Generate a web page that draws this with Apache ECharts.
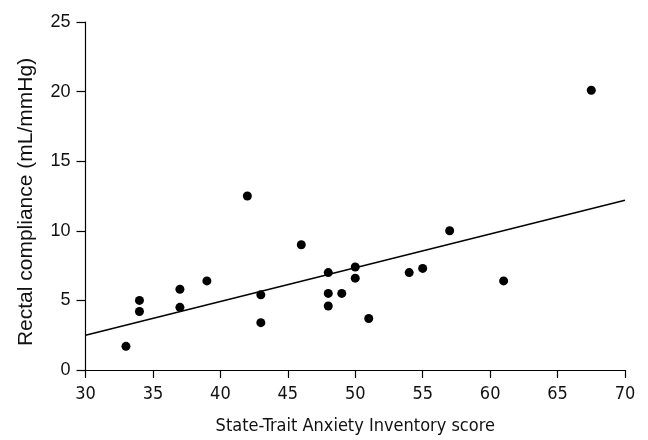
<!DOCTYPE html>
<html>
<head>
<meta charset="utf-8">
<script src="https://cdn.jsdelivr.net/npm/echarts@6/dist/echarts.min.js"></script>
<style>
  html, body { margin: 0; padding: 0; background: #fff; }
  #chart { width: 648px; height: 440px; }
</style>
</head>
<body>
<div id="chart"></div>
<script>
// STAI score vs rectal compliance
const staiScores = [33, 34, 34, 37, 37, 39, 42, 43, 43, 46, 48, 48, 48, 49, 50, 50, 51, 54, 55, 57, 61, 67.5];
const compliance = [1.7, 5.0, 4.2, 5.8, 4.5, 6.4, 12.5, 5.4, 3.4, 9.0, 7.0, 5.5, 4.6, 5.5, 7.4, 6.6, 3.7, 7.0, 7.3, 10.0, 6.4, 20.1];

// fitted line end points
const fitX = [30, 70];
const fitY = [2.5, 12.2];

const xTicks = [30, 35, 40, 45, 50, 55, 60, 65, 70];
const yTicks = [0, 5, 10, 15, 20, 25];

const narrowFont = '"DejaVu Sans Condensed", "Liberation Sans", sans-serif';

const chart = echarts.init(document.getElementById('chart'));

const axisLine = { show: true, lineStyle: { color: '#000', width: 1.2 } };

chart.setOption({
    animation: false,
    backgroundColor: '#fff',
    grid: { left: 85.5, right: 23, top: 22, bottom: 67 },
    xAxis: {
        type: 'value',
        min: xTicks[0],
        max: xTicks[xTicks.length - 1],
        interval: 5,
        name: 'State-Trait Anxiety Inventory score',
        nameLocation: 'middle',
        nameGap: 47,
        nameTextStyle: { fontFamily: narrowFont, fontSize: 18, color: '#111' },
        axisLine: axisLine,
        axisTick: { show: true, length: 8, lineStyle: { color: '#000', width: 1.2 } },
        axisLabel: { margin: 15, fontFamily: narrowFont, fontSize: 18, color: '#111' },
        splitLine: { show: false }
    },
    yAxis: {
        type: 'value',
        min: yTicks[0],
        max: yTicks[yTicks.length - 1],
        interval: 5,
        name: 'Rectal compliance (mL/mmHg)',
        nameLocation: 'middle',
        nameGap: 49,
        nameTextStyle: { fontFamily: 'Liberation Sans', fontSize: 21, color: '#111', padding: [0, 12, 0, 0] },
        axisLine: axisLine,
        axisTick: { show: true, length: 9, lineStyle: { color: '#000', width: 1.2 } },
        axisLabel: { margin: 15, fontFamily: 'Liberation Sans', fontSize: 18, color: '#111' },
        splitLine: { show: false }
    },
    series: [
        {
            type: 'line',
            data: fitX.map((x, i) => [x, fitY[i]]),
            symbol: 'none',
            lineStyle: { color: '#000', width: 1.5 },
            silent: true
        },
        {
            type: 'scatter',
            data: staiScores.map((x, i) => [x, compliance[i]]),
            symbol: 'circle',
            symbolSize: 9,
            itemStyle: { color: '#000', opacity: 1 }
        }
    ]
});
</script>
</body>
</html>
